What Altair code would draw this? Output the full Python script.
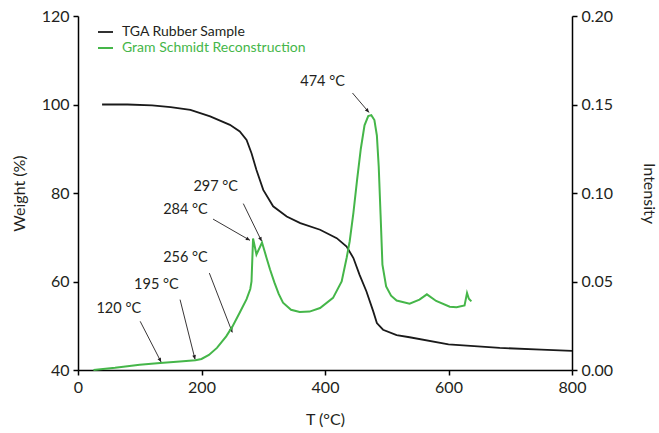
import math
import altair as alt
import pandas as pd

# ---------------- data ----------------
tga_T = [39, 80, 120, 150, 182, 214, 246, 262, 273, 281, 289, 300, 316, 338, 360,
         392, 419, 435, 446, 456, 467, 478, 484, 494, 516, 537, 600, 683, 750, 800]
tga_W = [100, 100, 99.8, 99.4, 98.8, 97.3, 95.4, 93.9, 92.0, 89.0, 85.2, 80.7, 77.0, 74.7, 73.2,
         71.7, 69.8, 67.9, 65.3, 61.5, 57.8, 53.3, 50.6, 49.1, 47.9, 47.4, 45.8, 45.0, 44.6, 44.3]

gs_T = [25, 60, 100, 133, 165, 190, 200, 212, 225, 240, 250, 262, 273, 279, 281, 283.5,
        289, 298, 305, 311, 318, 325, 332, 345, 359, 375, 392, 413, 427, 435, 440, 446,
        452, 458, 464, 470, 475, 480, 484, 487, 490, 493, 499, 507, 516, 537, 553, 565,
        580, 602, 613, 626, 630, 633, 637]
gs_Wequiv = [40, 40.5, 41.2, 41.6, 41.9, 42.2, 42.5, 43.4, 45, 47.6, 49.8, 53, 56, 58.3, 60, 69.7,
             66.1, 68.8, 65.5, 62.7, 59.8, 57.2, 55.2, 53.6, 53.1, 53.2, 54.0, 56.3, 60.0, 65.3, 69.1, 75.5,
             83, 90, 95.3, 97.4, 97.6, 96.5, 93, 86, 75.1, 63.8, 58.9, 56.8, 55.7, 55.0, 55.9, 57.1,
             55.6, 54.3, 54.2, 54.6, 57.4, 56.1, 55.5]
gs_I = [round((w - 40) / 400, 5) for w in gs_Wequiv]

ann_labels = ["474 °C", "297 °C", "284 °C", "256 °C", "195 °C", "120 °C"]
ann_text_T = [396, 223, 174, 174, 127, 66]
ann_text_W = [105.1, 81.3, 76.1, 65.2, 59.1, 53.8]
arr_T1 = [444.5, 267.7, 218.7, 212.7, 165.3, 100.7]
arr_W1 = [102.6, 77.6, 74.1, 61.9, 55.9, 51.0]
arr_T2 = [471.3, 297.4, 278.5, 249.9, 189.6, 134.6]
arr_W2 = [98.2, 69.1, 69.3, 48.5, 42.4, 41.8]

legend_names = ["TGA Rubber Sample", "Gram Schmidt Reconstruction"]
black = "#1a1a1a"
green = "#45b649"
textc = "#231f20"
FONT = "Lato"

W_PX, H_PX = 494, 354
x_dom = [0, 800]
y_dom = [40, 120]

# ---------------- frames ----------------
tga = pd.DataFrame({"T": tga_T, "W": tga_W})
gs = pd.DataFrame({"T": gs_T, "I": gs_I})
angles = []
for a, b, c, d in zip(arr_T1, arr_W1, arr_T2, arr_W2):
    dx = (c - a) * W_PX / (x_dom[1] - x_dom[0])
    dy = -(d - b) * H_PX / (y_dom[1] - y_dom[0])
    angles.append(math.degrees(math.atan2(dx, -dy)) % 360)
ann = pd.DataFrame({"label": ann_labels, "tT": ann_text_T, "tW": ann_text_W,
                    "T1": arr_T1, "W1": arr_W1, "T2": arr_T2, "W2": arr_W2, "ang": angles})

xs = alt.Scale(domain=x_dom, nice=False)
ys = alt.Scale(domain=y_dom, nice=False)

x_axis = alt.Axis(values=[0, 200, 400, 600, 800], title="T (°C)", titlePadding=16, labelFlush=False)

black_line = alt.Chart(tga).mark_line(color=black, strokeWidth=1.8).encode(
    x=alt.X("T:Q", scale=xs, axis=x_axis),
    y=alt.Y("W:Q", scale=ys,
            axis=alt.Axis(values=[40, 60, 80, 100, 120], title="Weight (%)", titlePadding=14)),
)

texts = alt.Chart(ann).mark_text(fontSize=14.5, font=FONT, color=textc, align="center",
                                 baseline="middle").encode(
    x=alt.X("tT:Q", scale=xs), y=alt.Y("tW:Q", scale=ys), text="label:N")

rules = alt.Chart(ann).mark_rule(color=textc, strokeWidth=0.9).encode(
    x=alt.X("T1:Q", scale=xs), y=alt.Y("W1:Q", scale=ys), x2="T2:Q", y2="W2:Q")

heads = alt.Chart(ann).mark_point(
    shape="M0,0L-0.45,1L0.45,1Z", filled=True, color=textc, size=70, opacity=1
).encode(x=alt.X("T2:Q", scale=xs), y=alt.Y("W2:Q", scale=ys), angle=alt.Angle("ang:Q", scale=None))

left = alt.layer(black_line, rules, heads, texts)

green_line = alt.Chart(gs).mark_line(color=green, strokeWidth=2).encode(
    x=alt.X("T:Q", scale=xs),
    y=alt.Y("I:Q", scale=alt.Scale(domain=[0, 0.2], nice=False),
            axis=alt.Axis(orient="right", values=[0, 0.05, 0.1, 0.15, 0.2], format=".2f",
                          title="Intensity", titlePadding=28)),
)

leg_df = pd.DataFrame({"name": legend_names})
leg1_line = alt.Chart(leg_df.iloc[:1]).mark_rule(color=black, strokeWidth=1.8).encode(
    x=alt.value(20), x2=alt.value(35), y=alt.value(16))
leg2_line = alt.Chart(leg_df.iloc[1:]).mark_rule(color=green, strokeWidth=2).encode(
    x=alt.value(20), x2=alt.value(35), y=alt.value(32))
leg1_text = alt.Chart(leg_df.iloc[:1]).mark_text(
    x=44, y=16, align="left", baseline="middle", fontSize=14, font=FONT, color=textc
).encode(text="name:N")
leg2_text = alt.Chart(leg_df.iloc[1:]).mark_text(
    x=44, y=32, align="left", baseline="middle", fontSize=14, font=FONT, color=green
).encode(text="name:N")

chart = alt.layer(left, green_line).resolve_scale(y="independent")
chart = alt.layer(chart, leg1_line, leg2_line, leg1_text, leg2_text).properties(
    width=W_PX, height=H_PX,
    padding={"left": 78, "top": 16, "right": 87, "bottom": 63},
    autosize=alt.AutoSizeParams(type="none"),
    background="white",
).configure_view(stroke=None).configure_axis(
    grid=False, domainColor="black", domainWidth=1.5, tickColor="black", tickWidth=1.5,
    tickSize=5, labelFontSize=16, labelFont=FONT, labelColor=textc, labelPadding=4,
    labelFlush=False,
    titleFont=FONT, titleFontSize=16, titleFontWeight="normal", titleColor=textc,
)

chart.save("out.html", embed_options={"renderer": "svg", "actions": False})
